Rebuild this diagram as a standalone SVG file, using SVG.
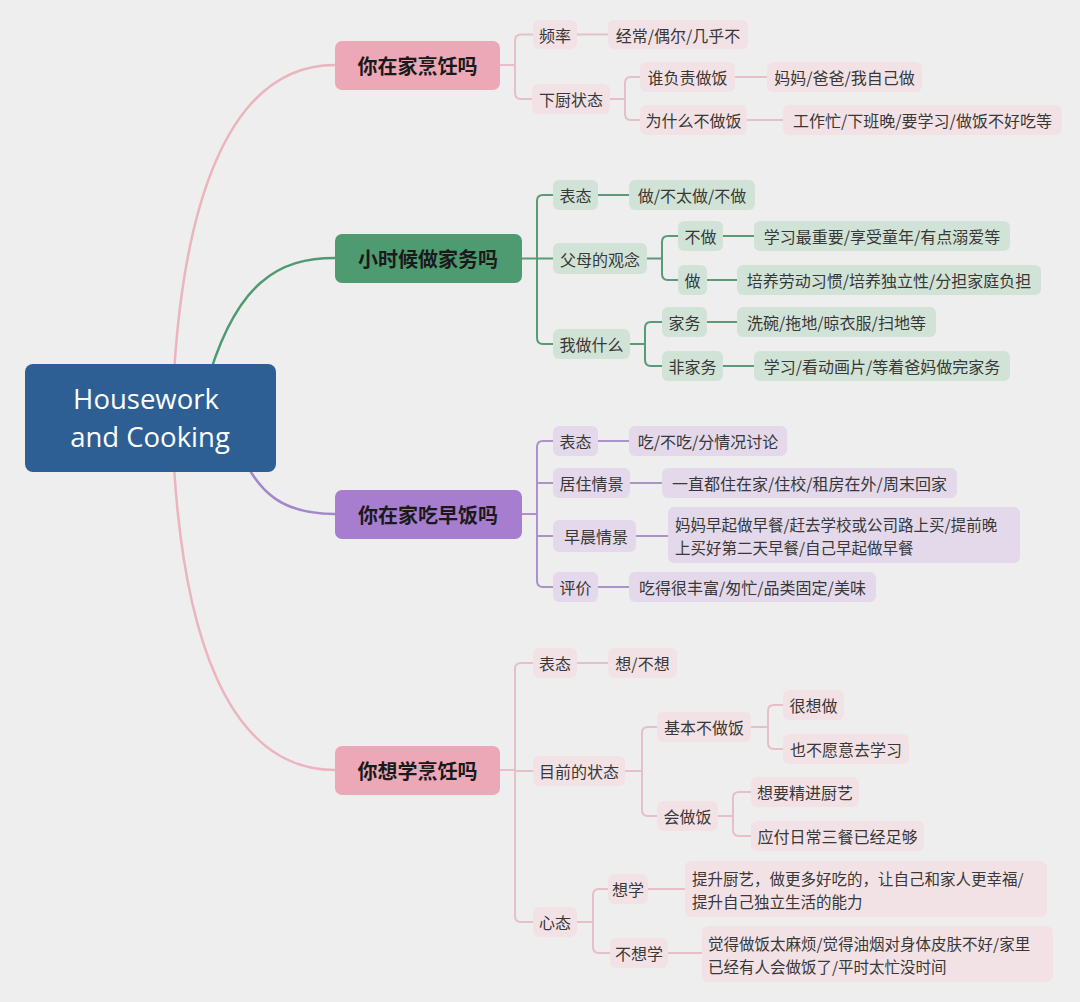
<svg xmlns="http://www.w3.org/2000/svg" width="1080" height="1002" viewBox="0 0 1080 1002">
<style>
.t{font-family:"Noto Sans CJK SC","Noto Sans",sans-serif;font-size:16px;fill:#383838;text-anchor:middle;dominant-baseline:central}
.tl{font-family:"Noto Sans CJK SC","Noto Sans",sans-serif;font-size:15.5px;fill:#383838;dominant-baseline:central}
.m{font-family:"Noto Sans CJK SC","Noto Sans",sans-serif;font-size:20px;font-weight:bold;fill:#1a1a1a;text-anchor:middle;dominant-baseline:central}
.r{font-family:"Open Sans","Noto Sans",sans-serif;font-size:27.5px;fill:#ffffff;text-anchor:middle}
.sp{fill:#f2e2e5}
.sg{fill:#d1e3d6}
.sv{fill:#e3d9eb}
.lp{stroke:#e6bfc8;stroke-width:2;fill:none}
.lg{stroke:#5a9a79;stroke-width:2;fill:none}
.lv{stroke:#ab93c9;stroke-width:2;fill:none}
.cp{stroke:#ebb4bf;stroke-width:2.5;fill:none}
.cg{stroke:#4f9a72;stroke-width:2.5;fill:none}
.cv{stroke:#a387cb;stroke-width:2.5;fill:none}
</style>
<rect width="1080" height="1002" fill="#eeeeee"/>
<g id="connectors">
<path class="cp" d="M172 420 C178 200 230 65 335 65"/>
<path class="cg" d="M205 390 C235 280 280 258 335 258"/>
<path class="cv" d="M240 450 C258 495 285 514 335 514"/>
<path class="cp" d="M172 420 C178 640 230 770 335 770"/>
<path class="lp" d="M500 65 H515"/>
<path class="lp" d="M533 34.5 H521 Q515 34.5 515 40.5 V93 Q515 99 521 99 H532"/>
<path class="lp" d="M577 34.5 H608"/>
<path class="lp" d="M610 99 H625"/>
<path class="lp" d="M640 77 H631 Q625 77 625 83 V114 Q625 120 631 120 H640"/>
<path class="lp" d="M735 77 H767"/>
<path class="lp" d="M747 120 H783"/>
<path class="lg" d="M521 258.5 H537"/>
<path class="lg" d="M553 195 H543 Q537 195 537 201 V338 Q537 344 543 344 H553"/>
<path class="lg" d="M537 258.5 H553"/>
<path class="lg" d="M598 195 H629"/>
<path class="lg" d="M647 258.5 H662"/>
<path class="lg" d="M678 236 H668 Q662 236 662 242 V274 Q662 280 668 280 H678"/>
<path class="lg" d="M723 236 H754"/>
<path class="lg" d="M707 280 H737"/>
<path class="lg" d="M630 344 H645"/>
<path class="lg" d="M662 322 H651 Q645 322 645 328 V360 Q645 366 651 366 H662"/>
<path class="lg" d="M707 322 H737"/>
<path class="lg" d="M723 366 H754"/>
<path class="lv" d="M521 514 H537"/>
<path class="lv" d="M553 441 H543 Q537 441 537 447 V581 Q537 587 543 587 H553"/>
<path class="lv" d="M537 483 H553"/>
<path class="lv" d="M537 536 H553"/>
<path class="lv" d="M598 441 H629"/>
<path class="lv" d="M630 483 H662"/>
<path class="lv" d="M636 536 H668"/>
<path class="lv" d="M598 587 H629"/>
<path class="lp" d="M500 770 H515"/>
<path class="lp" d="M533 663 H521 Q515 663 515 669 V916 Q515 922 521 922 H533"/>
<path class="lp" d="M515 771 H533"/>
<path class="lp" d="M577 663 H608"/>
<path class="lp" d="M625 771 H642"/>
<path class="lp" d="M657 727 H648 Q642 727 642 733 V810 Q642 816 648 816 H657"/>
<path class="lp" d="M751 727 H768"/>
<path class="lp" d="M783 705 H774 Q768 705 768 711 V743 Q768 749 774 749 H783"/>
<path class="lp" d="M718 816 H733"/>
<path class="lp" d="M751 792 H739 Q733 792 733 798 V830 Q733 836 739 836 H751"/>
<path class="lp" d="M577 922 H593"/>
<path class="lp" d="M608 889 H599 Q593 889 593 895 V947 Q593 953 599 953 H610"/>
<path class="lp" d="M648 889 H685"/>
<path class="lp" d="M668 953 H702"/>
</g>

<g id="root">
<rect x="25" y="364" width="251" height="108" rx="8" fill="#2d5f94"/>
<text class="r" x="146" y="409">Housework</text>
<text class="r" x="150" y="447">and Cooking</text>
</g>

<g id="n1">
<rect x="335" y="41" width="165" height="49" rx="7" fill="#eca8b7"/>
<text class="m" x="417.5" y="65.5">你在家烹饪吗</text>
</g>
<g id="n1-1"><rect class="sp" x="533" y="20" width="44" height="29" rx="6"/><text class="t" x="555" y="34.5">频率</text></g>
<g id="n1-1a"><rect class="sp" x="608" y="20" width="140" height="29" rx="6"/><text class="t" x="678" y="34.5">经常/偶尔/几乎不</text></g>
<g id="n1-2"><rect class="sp" x="532" y="84" width="78" height="30" rx="6"/><text class="t" x="571" y="99">下厨状态</text></g>
<g id="n1-2-1"><rect class="sp" x="640" y="62" width="95" height="30" rx="6"/><text class="t" x="687.5" y="77">谁负责做饭</text></g>
<g id="n1-2-1a"><rect class="sp" x="767" y="62" width="155" height="30" rx="6"/><text class="t" x="844.5" y="77">妈妈/爸爸/我自己做</text></g>
<g id="n1-2-2"><rect class="sp" x="640" y="105" width="107" height="30" rx="6"/><text class="t" x="693.5" y="120">为什么不做饭</text></g>
<g id="n1-2-2a"><rect class="sp" x="783" y="105" width="279" height="30" rx="6"/><text class="t" x="922.5" y="120">工作忙/下班晚/要学习/做饭不好吃等</text></g>

<g id="n2">
<rect x="335" y="234" width="187" height="49" rx="7" fill="#4f9b71"/>
<text class="m" x="428" y="258.5">小时候做家务吗</text>
</g>
<g id="n2-1"><rect class="sg" x="553" y="180" width="45" height="30" rx="6"/><text class="t" x="575.5" y="195">表态</text></g>
<g id="n2-1a"><rect class="sg" x="629" y="180" width="126" height="30" rx="6"/><text class="t" x="692" y="195">做/不太做/不做</text></g>
<g id="n2-2"><rect class="sg" x="553" y="243" width="94" height="31" rx="6"/><text class="t" x="600" y="258.5">父母的观念</text></g>
<g id="n2-2-1"><rect class="sg" x="678" y="221" width="45" height="30" rx="6"/><text class="t" x="700.5" y="236">不做</text></g>
<g id="n2-2-1a"><rect class="sg" x="754" y="221" width="256" height="30" rx="6"/><text class="t" x="882" y="236">学习最重要/享受童年/有点溺爱等</text></g>
<g id="n2-2-2"><rect class="sg" x="678" y="265" width="29" height="30" rx="6"/><text class="t" x="692.5" y="280">做</text></g>
<g id="n2-2-2a"><rect class="sg" x="737" y="265" width="304" height="30" rx="6"/><text class="t" x="889" y="280">培养劳动习惯/培养独立性/分担家庭负担</text></g>
<g id="n2-3"><rect class="sg" x="553" y="329" width="77" height="30" rx="6"/><text class="t" x="591.5" y="344">我做什么</text></g>
<g id="n2-3-1"><rect class="sg" x="662" y="307" width="45" height="30" rx="6"/><text class="t" x="684.5" y="322">家务</text></g>
<g id="n2-3-1a"><rect class="sg" x="737" y="307" width="199" height="30" rx="6"/><text class="t" x="836.5" y="322">洗碗/拖地/晾衣服/扫地等</text></g>
<g id="n2-3-2"><rect class="sg" x="662" y="351" width="61" height="30" rx="6"/><text class="t" x="692.5" y="366">非家务</text></g>
<g id="n2-3-2a"><rect class="sg" x="754" y="351" width="256" height="30" rx="6"/><text class="t" x="882" y="366">学习/看动画片/等着爸妈做完家务</text></g>

<g id="n3">
<rect x="335" y="490" width="187" height="49" rx="7" fill="#a77dcf"/>
<text class="m" x="428" y="514.5">你在家吃早饭吗</text>
</g>
<g id="n3-1"><rect class="sv" x="553" y="426" width="45" height="30" rx="6"/><text class="t" x="575.5" y="441">表态</text></g>
<g id="n3-1a"><rect class="sv" x="629" y="426" width="158" height="30" rx="6"/><text class="t" x="708" y="441">吃/不吃/分情况讨论</text></g>
<g id="n3-2"><rect class="sv" x="553" y="468" width="77" height="30" rx="6"/><text class="t" x="591.5" y="483">居住情景</text></g>
<g id="n3-2a"><rect class="sv" x="662" y="468" width="295" height="30" rx="6"/><text class="t" x="809.5" y="483">一直都住在家/住校/租房在外/周末回家</text></g>
<g id="n3-3"><rect class="sv" x="553" y="520" width="83" height="32" rx="6"/><text class="t" x="596" y="536">早晨情景</text></g>
<g id="n3-3a"><rect class="sv" x="668" y="507" width="352" height="56" rx="6"/>
<text class="tl" x="675" y="523.5">妈妈早起做早餐/赶去学校或公司路上买/提前晚<tspan x="675" dy="23">上买好第二天早餐/自己早起做早餐</tspan></text></g>
<g id="n3-4"><rect class="sv" x="553" y="572" width="45" height="30" rx="6"/><text class="t" x="575.5" y="587">评价</text></g>
<g id="n3-4a"><rect class="sv" x="629" y="572" width="247" height="30" rx="6"/><text class="t" x="752.5" y="587">吃得很丰富/匆忙/品类固定/美味</text></g>

<g id="n4">
<rect x="335" y="746" width="165" height="49" rx="7" fill="#eca8b7"/>
<text class="m" x="417.5" y="770.5">你想学烹饪吗</text>
</g>
<g id="n4-1"><rect class="sp" x="533" y="648" width="44" height="30" rx="6"/><text class="t" x="555" y="663">表态</text></g>
<g id="n4-1a"><rect class="sp" x="608" y="648" width="69" height="30" rx="6"/><text class="t" x="642.5" y="663">想/不想</text></g>
<g id="n4-2"><rect class="sp" x="533" y="756" width="92" height="30" rx="6"/><text class="t" x="579" y="771">目前的状态</text></g>
<g id="n4-2-1"><rect class="sp" x="657" y="712" width="94" height="30" rx="6"/><text class="t" x="704" y="727">基本不做饭</text></g>
<g id="n4-2-1-1"><rect class="sp" x="783" y="690" width="61" height="30" rx="6"/><text class="t" x="813.5" y="705">很想做</text></g>
<g id="n4-2-1-2"><rect class="sp" x="783" y="734" width="126" height="30" rx="6"/><text class="t" x="846" y="749">也不愿意去学习</text></g>
<g id="n4-2-2"><rect class="sp" x="657" y="801" width="61" height="30" rx="6"/><text class="t" x="687.5" y="816">会做饭</text></g>
<g id="n4-2-2-1"><rect class="sp" x="751" y="777" width="108" height="30" rx="6"/><text class="t" x="805" y="792">想要精进厨艺</text></g>
<g id="n4-2-2-2"><rect class="sp" x="751" y="821" width="173" height="30" rx="6"/><text class="t" x="837.5" y="836">应付日常三餐已经足够</text></g>
<g id="n4-3"><rect class="sp" x="533" y="907" width="44" height="30" rx="6"/><text class="t" x="555" y="922">心态</text></g>
<g id="n4-3-1"><rect class="sp" x="608" y="874" width="40" height="30" rx="6"/><text class="t" x="628" y="889">想学</text></g>
<g id="n4-3-1a"><rect class="sp" x="685" y="861" width="362" height="56" rx="6"/>
<text class="tl" x="692" y="877.5">提升厨艺，做更多好吃的，让自己和家人更幸福/<tspan x="692" dy="23">提升自己独立生活的能力</tspan></text></g>
<g id="n4-3-2"><rect class="sp" x="610" y="938" width="58" height="30" rx="6"/><text class="t" x="639" y="953">不想学</text></g>
<g id="n4-3-2a"><rect class="sp" x="702" y="926" width="351" height="56" rx="6"/>
<text class="tl" x="708" y="942.5">觉得做饭太麻烦/觉得油烟对身体皮肤不好/家里<tspan x="708" dy="23">已经有人会做饭了/平时太忙没时间</tspan></text></g>
</svg>
